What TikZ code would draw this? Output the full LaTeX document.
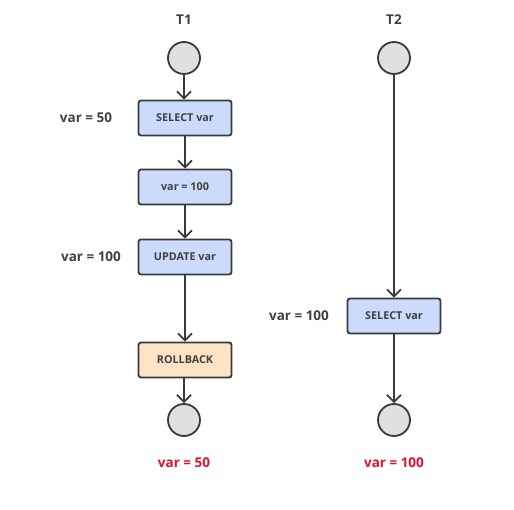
\documentclass[tikz,border=0pt]{standalone}
\usepackage{fontspec}
\setmainfont{Open Sans}
\usetikzlibrary{arrows.meta}
\definecolor{boxblue}{HTML}{CCDAFC}
\definecolor{boxorange}{HTML}{FFE3C7}
\definecolor{circgray}{HTML}{E0E0E0}
\definecolor{edge}{HTML}{3A3A3A}
\definecolor{txt}{HTML}{404040}
\definecolor{redtxt}{HTML}{E2102E}
\begin{document}
\begin{tikzpicture}[x=1pt,y=-1pt,
  stepbox/.style={draw=edge,line width=1.8pt,rounded corners=2.5pt,minimum width=93pt,minimum height=35pt,inner sep=0pt,font=\fontsize{10.8}{11}\selectfont\bfseries,text=txt},
  bluebox/.style={stepbox,fill=boxblue},
  orangebox/.style={stepbox,fill=boxorange},
  state/.style={circle,draw=edge,line width=1.8pt,fill=circgray,minimum size=32pt,inner sep=0pt},
  lbl/.style={font=\fontsize{13.5}{14}\selectfont\bfseries,text=txt},
  redlbl/.style={font=\fontsize{13.5}{14}\selectfont\bfseries,text=redtxt},
  conn/.style={draw=edge,line width=1.8pt,-{Straight Barb[length=7pt,width=14pt,line width=1.8pt]}}]
\useasboundingbox (0,0) rectangle (514,510);
\node[lbl] (t1) at (184,20) {T1};
\node[lbl] (t2) at (394,20) {T2};
\node[state] (s1) at (184,58) {};
\node[bluebox] (sel1) at (185,118) {SELECT var};
\node[bluebox] (set1) at (185,187) {var = 100};
\node[bluebox] (upd1) at (185,257) {UPDATE var};
\node[orangebox] (rb1) at (185,360) {ROLLBACK};
\node[state] (e1) at (184,420) {};
\node[redlbl] (r1) at (184,463) {var = 50};
\node[lbl] (l1) at (86,118) {var = 50};
\node[lbl] (l2) at (91,257) {var = 100};
\node[state] (s2) at (394,58) {};
\node[bluebox] (sel2) at (394,316) {SELECT var};
\node[state] (e2) at (394,420) {};
\node[redlbl] (r2) at (394,463) {var = 100};
\node[lbl] (l3) at (299,316) {var = 100};
\draw[conn] (s1) -- (s1 |- sel1.north);
\draw[conn] (sel1) -- (set1);
\draw[conn] (set1) -- (upd1);
\draw[conn] (upd1) -- (rb1);
\draw[conn] (rb1.south -| e1) -- (e1);
\draw[conn] (s2) -- (sel2);
\draw[conn] (sel2) -- (e2);
\end{tikzpicture}
\end{document}
